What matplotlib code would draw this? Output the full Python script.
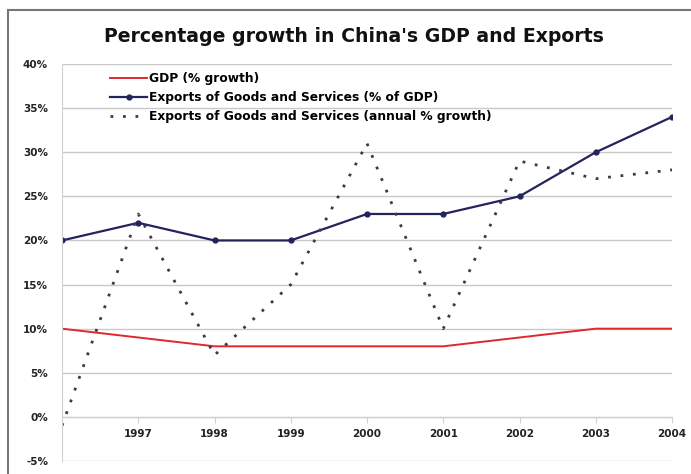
import matplotlib
matplotlib.use("Agg")
import matplotlib.pyplot as plt
from matplotlib.patches import Rectangle

years = ["1996", "1997", "1998", "1999", "2000", "2001", "2002", "2003", "2004"]
gdp_growth = [10, 9, 8, 8, 8, 8, 9, 10, 10]
exports_pct_gdp = [20, 22, 20, 20, 23, 23, 25, 30, 34]
exports_growth = [-1, 23, 7, 15, 31, 10, 29, 27, 28]
y_ticks = [-5, 0, 5, 10, 15, 20, 25, 30, 35, 40]

fig = plt.figure(figsize=(6.91, 4.74), dpi=100)
fig.patches.append(Rectangle((8/691, -0.05), 1.1, (474-10)/474 + 0.05, transform=fig.transFigure,
                             fill=False, edgecolor="#777777", linewidth=1.5))
ax = fig.add_axes([62/691, 13/474, 610/691, 397/474])
x = list(range(len(years)))

ax.plot(x, gdp_growth, color="#e0282a", linewidth=1.4, label="GDP (% growth)")
ax.plot(x, exports_pct_gdp, color="#23235e", linewidth=1.6, marker="o", markersize=3.5,
        label="Exports of Goods and Services (% of GDP)")
ax.plot(x, exports_growth, color="#3a3a4a", linewidth=2, linestyle=(0, (1, 3.5)),
        label="Exports of Goods and Services (annual % growth)")

ax.set_xlim(0, 8)
ax.set_ylim(-5, 40)
ax.set_yticks(y_ticks)
ax.set_yticklabels([f"{v}%" for v in y_ticks], fontsize=7.5, fontweight="bold", color="#222222")
ax.yaxis.grid(True, color="#c8c8c8", linewidth=1)
ax.set_axisbelow(True)
for s in ["top", "right"]:
    ax.spines[s].set_visible(False)
ax.spines["left"].set_color("#d0d0d0")
ax.spines["bottom"].set_position(("data", 0))
ax.spines["bottom"].set_color("#d0d0d0")
ax.tick_params(axis="y", length=0, pad=10)
ax.set_xticks(x[1:])
ax.set_xticklabels(years[1:], fontsize=7.5, fontweight="bold", color="#222222")
ax.tick_params(axis="x", length=4, color="#d0d0d0", pad=5)

fig.text(0.512, 0.924, "Percentage growth in China's GDP and Exports", ha="center", va="center",
         fontsize=13.6, fontweight="bold", color="#111111")

leg = ax.legend(loc="upper left", bbox_to_anchor=(0.079, 0.979), frameon=False,
                prop={"size": 8.8, "weight": "bold"}, handlelength=3.0, labelspacing=0.47,
                handletextpad=0.15, borderaxespad=0, borderpad=0)

fig.savefig("out.png", dpi=100)
